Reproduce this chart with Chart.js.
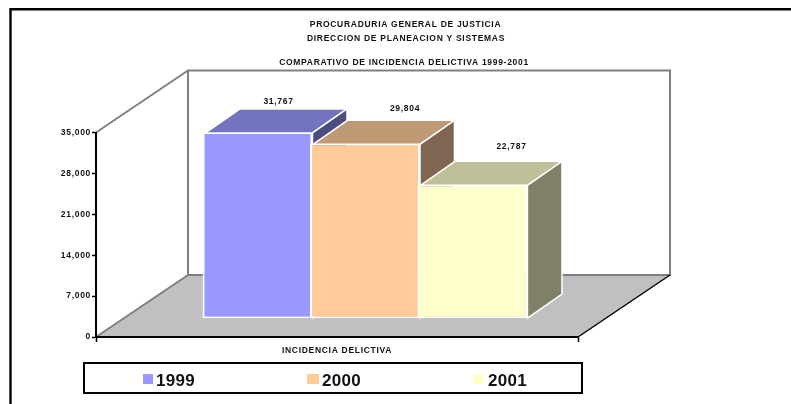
<!DOCTYPE html>
<html><head><meta charset="utf-8">
<style>html,body{margin:0;padding:0;background:#fff;overflow:hidden}canvas{display:block}</style>
<script src="https://cdn.jsdelivr.net/npm/chart.js@4/dist/chart.umd.min.js"></script>
</head><body><canvas id="c" width="791" height="404"></canvas>
<script>
const categories = ['INCIDENCIA DELICTIVA'];
const seriesNames = ['1999', '2000', '2001'];
const values1999 = [31767];
const values2000 = [29804];
const values2001 = [22787];
const frontColors = ['#9999FF', '#FFCC99', '#FFFFCC'];
const topColors = ['#7373BF', '#BF9973', '#BFBF99'];
const sideColors = ['#4D4D80', '#806650', '#808066'];
const titleLines = ['PROCURADURIA GENERAL DE JUSTICIA', 'DIRECCION DE PLANEACION Y SISTEMAS', 'COMPARATIVO DE INCIDENCIA DELICTIVA 1999-2001'];

const FONT = '"Liberation Sans", Arial, sans-serif';
const WALL = {dx: 92, dy: 62};
const SHIFT = {dx: 28, dy: 18.5};
const DEPTH = {dx: 34.5, dy: 24};
const LABEL_NUDGE = [[21, 33], [40, 37], [39, 40]];

function poly(ctx, pts, fill, stroke, lw) {
  ctx.beginPath();
  pts.forEach((p, i) => i ? ctx.lineTo(p[0], p[1]) : ctx.moveTo(p[0], p[1]));
  ctx.closePath();
  if (fill) { ctx.fillStyle = fill; ctx.fill(); }
  if (stroke) { ctx.strokeStyle = stroke; ctx.lineWidth = lw; ctx.stroke(); }
}
function seg(ctx, a, b, color, lw) {
  ctx.beginPath(); ctx.moveTo(a[0], a[1]); ctx.lineTo(b[0], b[1]);
  ctx.strokeStyle = color; ctx.lineWidth = lw; ctx.stroke();
}

const scene = {
  id: 'scene',
  beforeDraw(chart) {
    const ctx = chart.ctx;
    ctx.letterSpacing = '0.7px';
    ctx.save();
    const a = chart.chartArea;
    const l = a.left, r = a.right, t = a.top, b = a.bottom;
    const d = WALL;
    // outer frame
    ctx.strokeStyle = '#000'; ctx.lineWidth = 2.4;
    ctx.beginPath(); ctx.moveTo(10.5, 404); ctx.lineTo(10.5, 9.2); ctx.lineTo(791, 9.2); ctx.stroke();
    // floor
    poly(ctx, [[l, b], [l + d.dx, b - d.dy], [r + d.dx, b - d.dy], [r, b]], '#C0C0C0');
    // back wall and left wall outline
    ctx.strokeStyle = '#808080'; ctx.lineWidth = 2;
    ctx.beginPath();
    ctx.rect(l + d.dx, t - d.dy, r - l, b - t);
    ctx.moveTo(l, t); ctx.lineTo(l + d.dx, t - d.dy);
    ctx.moveTo(l, b); ctx.lineTo(l + d.dx, b - d.dy);
    ctx.stroke();
    seg(ctx, [r, b], [r + d.dx, b - d.dy], '#000', 1.5);
    ctx.restore();
  },
  beforeDatasetsDraw(chart) {
    const ctx = chart.ctx;
    chart.data.datasets.forEach((ds, idx) => {
      const meta = chart.getDatasetMeta(idx);
      ctx.save();
      ctx.translate(SHIFT.dx, -SHIFT.dy);
      meta.data.forEach(el => {
        const x0 = el.x - el.width / 2 + 3, x1 = el.x + el.width / 2, y0 = el.y, y1 = el.base;
        const dx = DEPTH.dx, dy = DEPTH.dy;
        poly(ctx, [[x0, y0], [x0 + dx, y0 - dy], [x1 + dx, y0 - dy], [x1, y0]], topColors[idx], '#fff', 1.5);
        poly(ctx, [[x1, y0], [x1 + dx, y0 - dy], [x1 + dx, y1 - dy], [x1, y1]], sideColors[idx], '#fff', 1.5);
      });
      meta.controller.draw();
      ctx.restore();
    });
    return false;
  },
  afterDraw(chart) {
    const ctx = chart.ctx;
    ctx.save();
    ctx.textBaseline = 'alphabetic';
    ctx.fillStyle = '#111';
    ctx.font = 'bold 8.5px ' + FONT;
    ctx.letterSpacing = '0.7px';
    ctx.textAlign = 'center';
    ctx.fillText(titleLines[0], 405.5, 27);
    ctx.fillText(titleLines[1], 406, 41);
    ctx.fillText(titleLines[2], 404, 65);
    // value labels
    chart.data.datasets.forEach((ds, i) => {
      const el = chart.getDatasetMeta(i).data[0];
      ctx.fillText(ds.data[0].toLocaleString('en-US'), el.x + SHIFT.dx + LABEL_NUDGE[i][0], el.y - SHIFT.dy - LABEL_NUDGE[i][1] + 4);
    });
    // legend
    ctx.strokeStyle = '#000'; ctx.lineWidth = 2;
    ctx.strokeRect(84, 363, 498, 30);
    const sw = [[143, 10], [307, 12], [473, 10]], tx = [156, 322, 488];
    ctx.textAlign = 'left';
    ctx.letterSpacing = '0.3px';
    ctx.font = 'bold 17px ' + FONT;
    chart.data.datasets.forEach((ds, i) => {
      ctx.fillStyle = ds.backgroundColor;
      ctx.fillRect(sw[i][0], 374, sw[i][1], 10);
      ctx.fillStyle = '#111';
      ctx.fillText(ds.label, tx[i], 385.5);
    });
    ctx.restore();
  }
};

new Chart(document.getElementById('c'), {
  type: 'bar',
  data: {
    labels: categories,
    datasets: [
      {label: seriesNames[0], data: values1999, backgroundColor: frontColors[0]},
      {label: seriesNames[1], data: values2000, backgroundColor: frontColors[1]},
      {label: seriesNames[2], data: values2001, backgroundColor: frontColors[2]}
    ].map(d => Object.assign(d, {borderColor: '#fff', borderWidth: {top: 1, bottom: 1.5, left: 2, right: 2}, borderSkipped: false, categoryPercentage: 0.669, barPercentage: 1.023}))
  },
  options: {
    responsive: false,
    animation: false,
    layout: {padding: {left: 0, right: 213, top: 132.5, bottom: 0}},
    plugins: {legend: {display: false}, title: {display: false}, tooltip: {enabled: false}},
    scales: {
      x: {
        afterFit(s) { s.height = 67; },
        border: {color: '#000', width: 2},
        grid: {drawOnChartArea: false, color: '#000', tickColor: '#000', tickLength: 5, tickWidth: 1.5},
        ticks: {color: '#111', padding: 4, maxRotation: 0, font: {family: FONT, size: 8.5, weight: 'bold'}}
      },
      y: {
        min: 0, max: 35000,
        afterFit(s) { s.width = 96; },
        border: {color: '#000', width: 2},
        grid: {drawOnChartArea: false, color: '#000', tickColor: '#000', tickLength: 4, tickWidth: 1.5},
        ticks: {stepSize: 7000, color: '#111', padding: 1, font: {family: FONT, size: 8.5, weight: 'bold'},
          callback: v => v.toLocaleString('en-US')}
      }
    }
  },
  plugins: [scene]
});
</script></body></html>
